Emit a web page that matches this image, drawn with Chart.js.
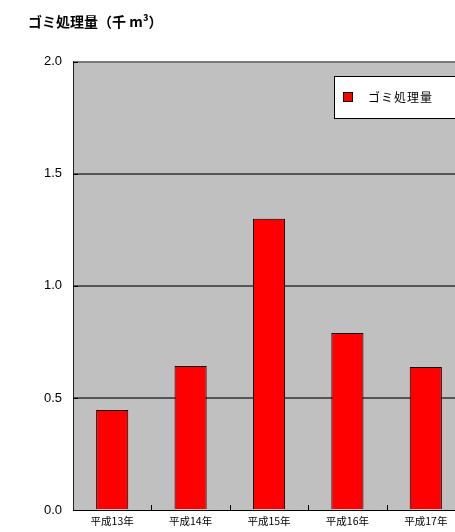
<!DOCTYPE html>
<html>
<head>
<meta charset="utf-8">
<script src="https://cdn.jsdelivr.net/npm/chart.js@4"></script>
<style>
  html, body { margin: 0; padding: 0; background: #fff; overflow: hidden; }
  #wrap { width: 466px; height: 532px; }
</style>
</head>
<body>
<div id="wrap"><canvas id="garbageChart"></canvas></div>
<script>
const years = ["平成13年", "平成14年", "平成15年", "平成16年", "平成17年"];
const amounts = [0.446, 0.643, 1.30, 0.79, 0.638];
const yTicks = [0, 0.5, 1.0, 1.5, 2.0];
const seriesName = "ゴミ処理量";
const titleText = "ゴミ処理量（千 m³）";

// gray plot area, inner ticks and the boxed legend
const plotDecor = {
  id: "plotDecor",
  beforeDraw(chart) {
    const { ctx, chartArea: a } = chart;
    ctx.save();
    ctx.fillStyle = "#c0c0c0";
    ctx.fillRect(a.left, a.top, a.right - a.left, a.bottom - a.top);
    ctx.restore();
  },
  afterDraw(chart) {
    const { ctx, chartArea: a, scales } = chart;
    const x = scales.x, y = scales.y;
    ctx.save();
    ctx.strokeStyle = "#000";
    ctx.lineWidth = 1;
    const step = x.width / years.length;
    ctx.beginPath();
    for (let i = 1; i < years.length; i++) {
      const px = Math.round(x.getPixelForValue(i) - step / 2) + 0.5;
      ctx.moveTo(px, a.bottom);
      ctx.lineTo(px, a.bottom - 5);
    }
    yTicks.forEach((v) => {
      const py = Math.round(y.getPixelForValue(v)) + 0.5;
      ctx.moveTo(a.left, py);
      ctx.lineTo(a.left + 5, py);
    });
    ctx.stroke();

    // legend box
    const ds = chart.data.datasets[0];
    ctx.fillStyle = "#fff";
    ctx.fillRect(334.5, 76.5, 200, 42);
    ctx.strokeRect(334.5, 76.5, 200, 42);
    ctx.fillStyle = ds.backgroundColor;
    ctx.fillRect(343.5, 92.5, 9, 9);
    ctx.strokeRect(343.5, 92.5, 9, 9);
    ctx.fillStyle = "#000";
    ctx.font = "12px 'Noto Sans CJK JP'";
    ctx.letterSpacing = "1px";
    ctx.textBaseline = "middle";
    ctx.fillText(ds.label, 368, 97.5);
    ctx.restore();
  },
};

const ctx = document.getElementById("garbageChart").getContext("2d");
new Chart(ctx, {
  type: "bar",
  data: {
    labels: years,
    datasets: [
      {
        label: seriesName,
        data: amounts,
        backgroundColor: "#ff0000",
        borderColor: "#000000",
        borderWidth: 1,
        categoryPercentage: 1,
        barPercentage: 0.41,
      },
    ],
  },
  options: {
    responsive: true,
    maintainAspectRatio: false,
    animation: false,
    layout: { padding: { left: 28, right: 1, top: 0, bottom: 0 } },
    plugins: {
      legend: { display: false },
      tooltip: { enabled: false },
      title: {
        display: true,
        text: titleText,
        align: "start",
        color: "#000",
        font: { family: "'Noto Sans CJK JP'", size: 14, weight: "bold", lineHeight: 1.2 },
        padding: { top: 13, bottom: 32 },
      },
    },
    scales: {
      x: {
        grid: { display: false, drawTicks: false },
        border: { display: true, color: "#000", width: 1 },
        ticks: {
          color: "#000",
          padding: 5,
          font: { family: "'Noto Sans CJK JP'", size: 10.5 },
        },
        afterFit(scale) {
          scale.height = 22;
        },
      },
      y: {
        min: 0,
        max: 2,
        afterBuildTicks(scale) {
          scale.ticks = yTicks.map((v) => ({ value: v }));
        },
        grid: {
          drawTicks: false,
          color: (c) => (c.tick.value === 0 ? "rgba(0,0,0,0)" : c.tick.value === 2 ? "#7a7a7a" : "#555555"),
          lineWidth: 2,
        },
        border: { display: true, color: "#222", width: 1 },
        ticks: {
          color: "#000",
          padding: 11,
          font: { family: "'Liberation Sans'", size: 13 },
          callback: (v) => Number(v).toFixed(1),
        },
        afterFit(scale) {
          scale.width = 45;
        },
      },
    },
  },
  plugins: [plotDecor],
});
</script>
</body>
</html>
